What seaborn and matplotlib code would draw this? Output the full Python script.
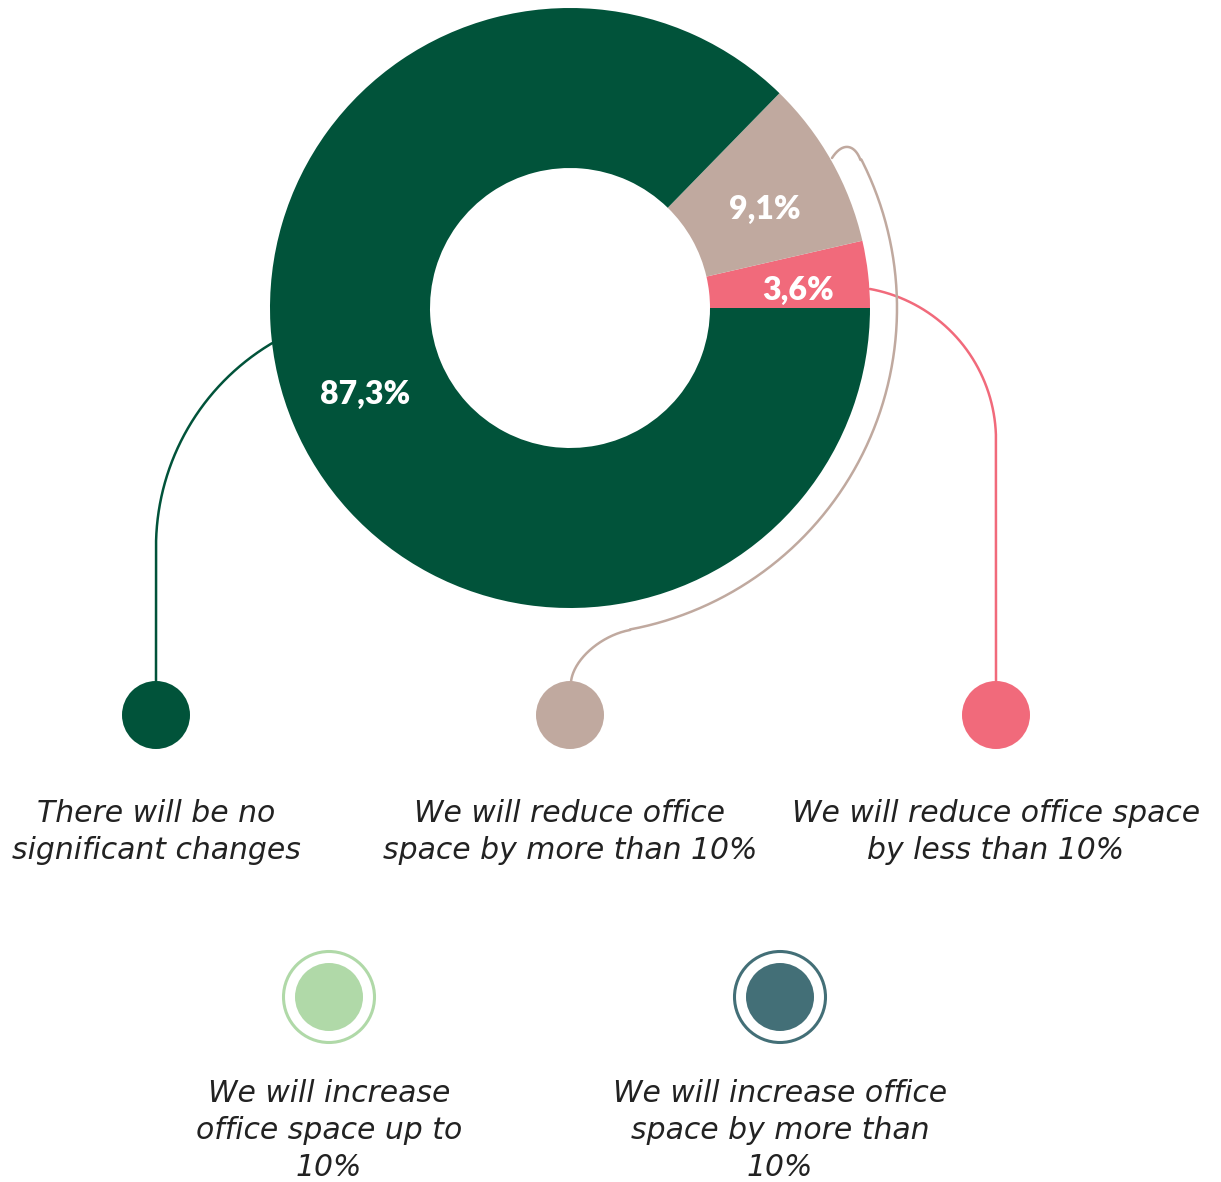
import numpy as np
import matplotlib
matplotlib.use("Agg")
import matplotlib.pyplot as plt
from matplotlib.patches import Circle
import seaborn as sns

# ---- data -------------------------------------------------------------
categories = [
    "There will be no\nsignificant changes",
    "We will reduce office\nspace by more than 10%",
    "We will reduce office space\nby less than 10%",
    "We will increase\noffice space up to\n10%",
    "We will increase office\nspace by more than\n10%",
]
shares = [87.3, 9.1, 3.6, 0.0, 0.0]
colors = ["#01533A", "#C0A99F", "#F16A7B", "#B0D9A8", "#436F77"]

# ---- style ------------------------------------------------------------
sns.set_theme(style="white")
plt.rcParams["font.family"] = ["DejaVu Sans"]

W, H = 1221, 1182
fig = plt.figure(figsize=(W / 100, H / 100), dpi=100)
ax = fig.add_axes([0, 0, 1, 1])

# ---- donut ------------------------------------------------------------
cx, cy, R_out, ring = 570, 308, 300, 160
# drawn from 3 o'clock going anticlockwise: smallest share first
order = [2, 1, 0]
vals = [shares[i] for i in order]
cols = [colors[i] for i in order]
wedges, texts, autotexts = ax.pie(
    vals,
    colors=cols,
    center=(cx, cy),
    radius=R_out,
    startangle=0,
    counterclock=False,  # y axis is flipped, so this reads anticlockwise
    wedgeprops=dict(width=ring, linewidth=0),
    autopct=lambda p: f"{p:.1f}%".replace(".", ","),
    pctdistance=0.74,
    textprops=dict(color="white", fontsize=23, fontweight="heavy",
                   family=["Lato", "DejaVu Sans"]),
    frame=True,
)
# nudge the small-slice labels slightly toward the horizontal
for t, (dx, dy) in zip(autotexts[:2], [(7, 8), (1, 10)]):
    x, y = t.get_position()
    t.set_position((x + dx, y + dy))

ax.set_xlim(0, W)
ax.set_ylim(H, 0)
ax.set_aspect("equal")
ax.set_axis_off()

# ---- legend dots ------------------------------------------------------
row1_y, row2_y = 715, 997
dot_x = [156, 570, 996, 329, 780]
dot_y = [row1_y, row1_y, row1_y, row2_y, row2_y]
dot_r = 34
for i, (x, y) in enumerate(zip(dot_x, dot_y)):
    ax.add_patch(Circle((x, y), dot_r, facecolor=colors[i], edgecolor="none", zorder=4))
    if shares[i] == 0:
        ax.add_patch(Circle((x, y), 45.5, facecolor="none", edgecolor=colors[i],
                            linewidth=2.2, zorder=4))

text_kw = dict(ha="center", va="top", fontsize=21.5, style="italic",
               color="#222222", linespacing=1.35)
for i, lab in enumerate(categories):
    ty = 799 if dot_y[i] == row1_y else 1079
    ax.text(dot_x[i], ty, lab, **text_kw)

# ---- connector lines --------------------------------------------------
lw = 1.8


def arc(xc, yc, r, t0, t1, n=200):
    t = np.radians(np.linspace(t0, t1, n))
    return np.column_stack([xc + r * np.cos(t), yc + r * np.sin(t)])


def bezier(p0, p1, p2, p3, n=60):
    s = np.linspace(0, 1, n)[:, None]
    p0, p1, p2, p3 = map(np.asarray, (p0, p1, p2, p3))
    return ((1 - s) ** 3) * p0 + 3 * ((1 - s) ** 2) * s * p1 + 3 * (1 - s) * s ** 2 * p2 + s ** 3 * p3


# no-change: up from the dot, then bend into the left edge of the ring
g = np.vstack([[[156, 681], [156, 547]], arc(393, 547, 237, 180, 239.3)])
ax.plot(g[:, 0], g[:, 1], color=colors[0], lw=lw, zorder=3, solid_capstyle="round")

# reduce < 10 %: up from the dot, then curve into the pink slice
p = np.vstack([[[996, 681], [996, 440]], arc(842.5, 440, 153.5, 0, -79.7)])
ax.plot(p[:, 0], p[:, 1], color=colors[2], lw=lw, zorder=3, solid_capstyle="round")

# reduce > 10 %: swoop around the ring to the beige slice
b = np.vstack([
    bezier((571, 682), (573, 660), (600.5, 635.5), (630, 630)),
    arc(cx, cy, 327, 79.4, -27.0),
    bezier((860.5, 160), (855, 145), (843, 141), (832, 158)),
])
ax.plot(b[:, 0], b[:, 1], color=colors[1], lw=lw, zorder=3, solid_capstyle="round")

fig.savefig("out.png", dpi=100, facecolor="white")
